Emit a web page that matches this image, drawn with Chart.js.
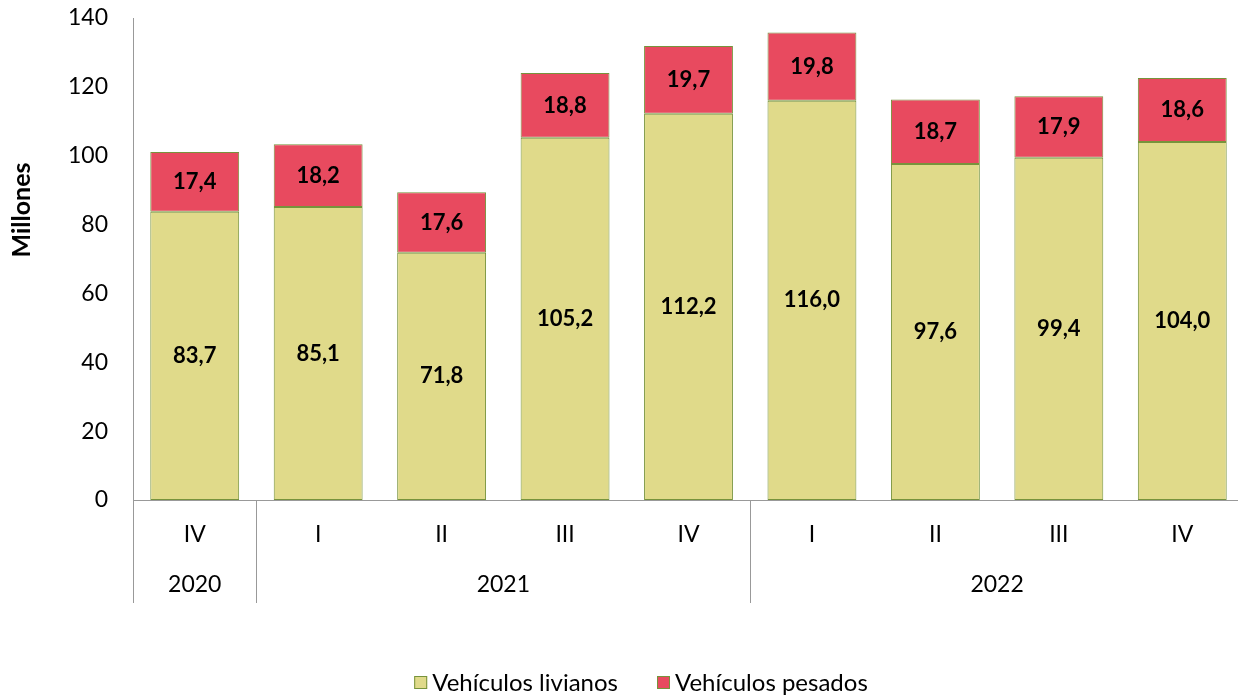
<!DOCTYPE html>
<html>
<head>
<meta charset="utf-8">
<script src="https://cdn.jsdelivr.net/npm/chart.js@4"></script>
<style>
  html, body { margin: 0; padding: 0; background: #fff; overflow: hidden; }
  #wrap { width: 1244px; height: 698px; position: relative; }
</style>
</head>
<body>
<div id="wrap"><canvas id="chart"></canvas></div>
<script>
// data
const quarters = ['IV', 'I', 'II', 'III', 'IV', 'I', 'II', 'III', 'IV'];
const years = ['2020', '2021', '2022'];
const yearSpans = [1, 4, 4]; // how many quarters each year covers
const livianos = [83.7, 85.1, 71.8, 105.2, 112.2, 116.0, 97.6, 99.4, 104.0];
const pesados = [17.4, 18.2, 17.6, 18.8, 19.7, 19.8, 18.7, 17.9, 18.6];
const yTicks = [0, 20, 40, 60, 80, 100, 120, 140];

const FONT = 'Lato, "Open Sans", sans-serif';
const BORDER = '#77933C';
const fmt = v => v.toFixed(1).replace('.', ',');

// value labels in the middle of each segment
const valueLabels = {
  id: 'valueLabels',
  afterDatasetsDraw(chart) {
    const ctx = chart.ctx;
    ctx.save();
    ctx.font = 'bold 22px ' + FONT;
    ctx.fillStyle = '#000';
    ctx.textAlign = 'center';
    ctx.textBaseline = 'middle';
    chart.data.datasets.forEach((ds, i) => {
      chart.getDatasetMeta(i).data.forEach((el, j) => {
        const p = el.getProps(['x', 'y', 'base'], true);
        ctx.fillText(fmt(ds.data[j]), p.x, (p.y + p.base) / 2);
      });
    });
    ctx.restore();
  }
};

// year row, separators, y axis title and legend
const extras = {
  id: 'extras',
  afterDraw(chart) {
    const ctx = chart.ctx;
    const x = chart.scales.x;
    const area = chart.chartArea;
    const step = x.getPixelForValue(1) - x.getPixelForValue(0);
    ctx.save();
    ctx.strokeStyle = '#999';
    ctx.lineWidth = 1;
    ctx.font = '23px ' + FONT;
    ctx.fillStyle = '#000';
    ctx.textAlign = 'center';
    ctx.textBaseline = 'middle';
    let start = 0;
    years.forEach((yr, k) => {
      const left = x.getPixelForValue(start) - step / 2;
      const right = x.getPixelForValue(start + yearSpans[k] - 1) + step / 2;
      ctx.beginPath();
      ctx.moveTo(Math.round(left) + 0.5, area.bottom);
      ctx.lineTo(Math.round(left) + 0.5, area.bottom + 103);
      ctx.stroke();
      ctx.fillText(yr, (left + right) / 2, area.bottom + 85);
      start += yearSpans[k];
    });

    // legend
    ctx.font = '24px ' + FONT;
    ctx.textAlign = 'left';
    const items = chart.data.datasets.map(ds => ({ ds, w: ctx.measureText(ds.label).width }));
    const total = items.reduce((s, it) => s + 18 + it.w, 0) + 39 * (items.length - 1);
    let lx = 641 - total / 2;
    const ly = 683;
    items.forEach(it => {
      ctx.fillStyle = it.ds.backgroundColor;
      ctx.fillRect(lx, ly - 7, 13, 13);
      ctx.strokeStyle = BORDER;
      ctx.strokeRect(lx + 0.5, ly - 6.5, 12, 12);
      ctx.fillStyle = '#000';
      ctx.fillText(it.ds.label, lx + 18, ly);
      lx += 18 + it.w + 39;
    });

    ctx.textAlign = 'center';
    ctx.translate(22, 210);
    ctx.rotate(-Math.PI / 2);
    ctx.font = 'bold 25px ' + FONT;
    ctx.fillText('Millones', 0, 0);
    ctx.restore();
  }
};

new Chart(document.getElementById('chart'), {
  type: 'bar',
  data: {
    labels: quarters,
    datasets: [
      {
        label: 'Vehículos livianos',
        data: livianos,
        backgroundColor: '#E0DA8A',
        borderColor: BORDER,
        borderWidth: 1,
        borderSkipped: false
      },
      {
        label: 'Vehículos pesados',
        data: pesados,
        backgroundColor: '#E84A5F',
        borderColor: BORDER,
        borderWidth: 1,
        borderSkipped: false
      }
    ]
  },
  options: {
    responsive: true,
    maintainAspectRatio: false,
    animation: false,
    layout: { padding: { top: 18, right: 0, left: 0, bottom: 0 } },
    plugins: {
      legend: { display: false },
      tooltip: { enabled: false }
    },
    scales: {
      x: {
        stacked: true,
        categoryPercentage: 1,
        barPercentage: 0.835,
        grid: { display: false },
        border: { color: '#999' },
        ticks: { font: { family: FONT, size: 23 }, color: '#000', padding: 13 },
        afterFit(scale) {
          scale.height = 198;
          scale.paddingLeft = 0;
          scale.paddingRight = 0;
        }
      },
      y: {
        stacked: true,
        min: 0,
        max: 140,
        grid: { display: false },
        border: { color: '#999' },
        afterBuildTicks(scale) { scale.ticks = yTicks.map(v => ({ value: v })); },
        ticks: { font: { family: FONT, size: 23 }, color: '#000', padding: 17 },
        afterFit(scale) {
          scale.width = 133;
          scale.paddingTop = 0;
          scale.paddingBottom = 0;
        }
      }
    }
  },
  plugins: [valueLabels, extras]
});
</script>
</body>
</html>
